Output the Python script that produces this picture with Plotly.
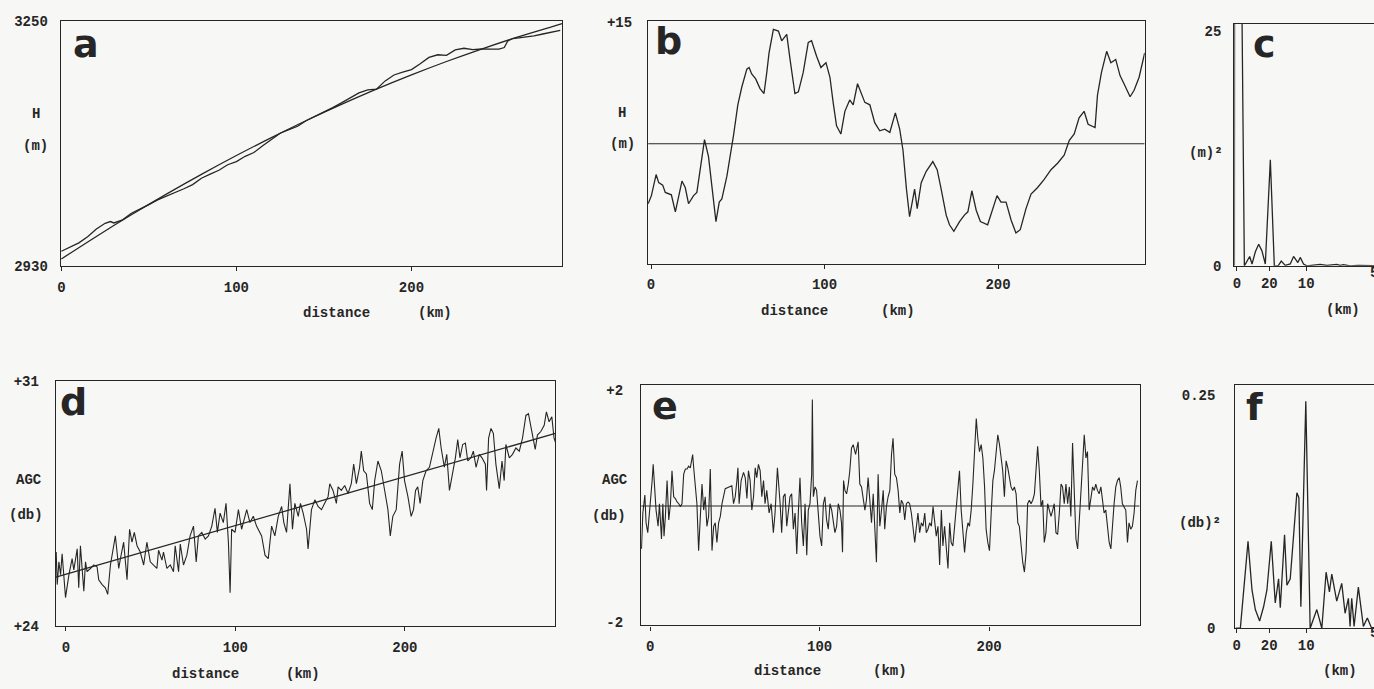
import plotly.graph_objects as go

W, H = 1374, 689

# ---------------- data ----------------
# panel a : surface elevation profile and its fitted trend
a_dist = [0, 5, 10, 15, 20, 25, 28, 30, 35, 40, 45, 50, 55, 60, 65, 70, 75, 80, 85, 90,
          95, 100, 105, 110, 115, 120, 125, 130, 135, 140, 145, 150, 155, 160, 165, 170,
          175, 180, 185, 190, 195, 200, 205, 210, 215, 220, 225, 230, 235, 240, 245, 250,
          253, 255, 258, 262, 265, 270, 275, 280, 285]
a_height = [2949.0, 2954.5, 2960.0, 2968.0, 2978.0, 2985.5, 2987.8, 2986.0, 2990.0, 2998.6,
            3004.0, 3010.0, 3016.0, 3020.6, 3026.1, 3030.6, 3036.0, 3044.4, 3049.6, 3054.8,
            3062.0, 3066.0, 3073.0, 3077.9, 3086.7, 3095.4, 3103.1, 3107.7, 3112.2, 3119.7,
            3125.0, 3131.3, 3136.6, 3142.7, 3148.8, 3155.8, 3159.8, 3160.6, 3171.4, 3179.1,
            3182.7, 3186.2, 3193.7, 3202.1, 3205.5, 3204.7, 3211.9, 3214.0, 3212.1, 3213.0,
            3212.9, 3212.8, 3215.0, 3223.5, 3226.7, 3227.6, 3228.8, 3230.2, 3232.6, 3235.0,
            3237.3]
a_fit_dist = [0, 20, 40, 60, 80, 100, 120, 140, 160, 180, 200, 220, 240, 260, 280, 286]
a_fit_height = [2939.0, 2968.4, 2996.6, 3023.6, 3049.4, 3074.0, 3097.4, 3119.7, 3140.7,
                3160.6, 3179.2, 3196.7, 3213.0, 3228.2, 3242.0, 3246.0]

# panel b : elevation residual
b_dist = [-1.7, 0.2, 2.9, 4.4, 6.7, 8.2, 11.7, 14.0, 17.8, 19.7, 21.6, 24.5, 26.4, 30.8, 33.1,
          35.1, 37.4, 39.3, 40.8, 43.7, 45.6, 47.5, 50.0, 52.3, 55.2, 56.5, 58.0, 60.3, 62.8,
          65.1, 66.7, 68.0, 70.5, 73.4, 75.3, 78.2, 80.1, 82.9, 84.9, 87.7, 90.6, 92.5, 95.4,
          97.9, 100.8, 103.1, 105.0, 106.9, 109.4, 111.7, 114.5, 116.5, 119.0, 121.3, 123.2,
          126.1, 128.9, 131.8, 134.7, 137.6, 140.8, 143.3, 145.2, 147.2, 149.0, 151.9, 153.4,
          155.7, 158.6, 162.4, 164.9, 167.2, 170.1, 172.0, 174.5, 177.8, 180.6, 182.6, 184.9,
          187.4, 189.8, 194.0, 196.9, 199.4, 201.7, 204.6, 207.5, 210.3, 212.8, 216.1, 219.0,
          222.8, 226.6, 230.5, 234.3, 238.1, 241.0, 243.9, 246.7, 249.6, 251.9, 255.9, 257.3,
          259.6, 262.6, 265.0, 267.8, 270.3, 272.6, 276.1, 278.4, 281.3, 284.5]
b_resid = [-7.4, -6.4, -3.8, -4.8, -5.1, -6.0, -6.3, -8.4, -4.6, -5.4, -7.4, -6.4, -6.0, 0.5,
           -1.6, -5.0, -9.6, -7.2, -6.8, -4.0, -1.6, 1.0, 4.8, 7.0, 9.2, 9.4, 8.6, 8.0, 6.8,
           6.2, 8.8, 11.2, 14.1, 13.9, 12.7, 13.5, 10.4, 6.2, 6.4, 8.8, 12.5, 12.7, 10.8, 9.4,
           10.0, 8.2, 5.0, 2.2, 1.2, 4.0, 5.4, 4.8, 7.4, 6.2, 5.1, 4.8, 2.6, 1.6, 1.8, 1.4,
           3.8, 1.8, -0.8, -5.6, -9.0, -5.6, -8.0, -4.8, -3.4, -2.2, -3.2, -5.6, -8.8, -10.0,
           -10.8, -9.6, -8.8, -8.4, -5.8, -8.2, -9.6, -10.0, -8.0, -6.4, -7.2, -7.2, -9.4,
           -11.0, -10.6, -8.0, -6.2, -5.4, -4.4, -3.2, -2.4, -1.4, 0.4, 1.2, 3.2, 4.0, 2.4,
           2.0, 6.0, 8.8, 11.4, 10.0, 10.4, 8.4, 7.4, 5.8, 6.6, 8.2, 11.2]

# panel c : power spectrum of elevation residual (frequency in 1/km)
c_freq = [0.0027, 0.0031, 0.0070, 0.0090, 0.0162, 0.0198, 0.0234, 0.0266, 0.0311, 0.0356,
          0.0400, 0.0446, 0.0514, 0.0568, 0.0620, 0.0662, 0.0716, 0.0784, 0.0829, 0.0887,
          0.0919, 0.0964, 0.1009, 0.1190, 0.1280, 0.1414, 0.1460, 0.1505, 0.1595, 0.1700,
          0.1919]
c_power = [0.0, 60.0, 60.0, 60.0, 0.0, 0.5, 1.0, 0.2, 1.5, 2.3, 1.6, 0.2, 11.3, 0.0, 0.0,
           0.5, 0.05, 0.2, 1.0, 0.35, 0.9, 0.2, 0.0, 0.15, 0.05, 0.15, 0.05, 0.12, 0.0, 0.05,
           0.02]

# panel d : AGC profile and linear trend
d_dist = [-5.7, -5.1, -4.1, -3.1, -2.2, -0.2, 1.8, 3.7, 4.7, 6.7,
          7.6, 8.6, 9.6, 10.6, 11.6, 12.5, 14.5, 16.5, 18.4, 19.4,
          21.4, 23.3, 24.7, 26.3, 29.2, 31.2, 32.2, 34.1, 36.1, 37.6,
          39.0, 40.4, 42.0, 43.9, 45.9, 47.8, 49.8, 51.8, 53.7, 54.7,
          56.7, 57.6, 59.6, 61.6, 63.5, 64.5, 66.5, 67.5, 69.4, 71.4,
          73.3, 75.3, 76.9, 78.2, 80.2, 82.2, 84.1, 86.1, 88.0, 89.4,
          91.0, 92.9, 94.5, 95.9, 96.9, 97.8, 99.8, 101.8, 103.7, 104.7,
          106.7, 108.6, 110.6, 112.5, 115.5, 117.5, 119.4, 121.4, 123.3, 125.3,
          127.3, 128.6, 130.2, 132.2, 133.7, 135.1, 137.1, 138.4, 140.0, 142.0,
          142.9, 144.9, 146.9, 148.8, 150.8, 152.7, 154.7, 155.7, 157.6, 159.6,
          160.6, 162.5, 164.5, 166.5, 168.4, 169.8, 171.4, 173.3, 174.3, 175.7,
          177.3, 179.2, 180.8, 182.2, 184.1, 186.1, 188.0, 190.0, 191.4, 192.9,
          194.9, 196.9, 198.4, 199.8, 201.8, 203.7, 205.1, 206.3, 207.6, 209.0,
          210.6, 212.5, 214.5, 216.5, 218.4, 220.0, 221.4, 223.3, 224.7, 226.3,
          228.2, 229.8, 231.2, 232.5, 234.1, 235.7, 237.1, 239.0, 240.4, 242.0,
          243.9, 245.5, 247.5, 248.2, 249.4, 250.8, 252.2, 253.7, 255.7, 257.3,
          258.6, 259.6, 261.6, 263.5, 265.5, 267.5, 269.4, 271.4, 272.9, 274.9,
          276.9, 278.2, 280.2, 282.2, 283.5, 285.1, 286.7, 288.0, 289.0]
d_agc = [26.12, 25.19, 25.84, 25.47, 26.07, 24.82, 25.47, 25.93, 25.61, 26.21,
         25.10, 26.30, 25.65, 25.00, 25.84, 25.56, 25.65, 25.75, 25.70, 25.33,
         25.19, 25.10, 24.91, 25.75, 26.58, 25.65, 25.93, 26.40, 25.33, 26.77,
         26.40, 26.68, 26.30, 26.12, 25.75, 26.40, 25.84, 25.75, 25.65, 26.17,
         25.89, 26.12, 25.65, 25.75, 25.56, 26.30, 25.56, 26.35, 25.75, 26.03,
         26.58, 26.86, 25.84, 26.58, 26.68, 26.49, 26.58, 26.86, 27.37, 26.68,
         27.23, 26.96, 27.51, 26.40, 24.96, 26.77, 26.68, 27.33, 26.77, 26.96,
         27.33, 26.96, 27.14, 26.86, 26.58, 26.03, 25.93, 26.86, 26.58, 27.14,
         27.42, 26.96, 26.68, 28.07, 26.77, 27.51, 27.14, 27.51, 27.23, 26.77,
         26.21, 27.33, 27.61, 27.42, 27.33, 27.51, 27.70, 28.07, 27.88, 27.51,
         27.98, 27.88, 28.02, 27.79, 28.07, 28.63, 28.07, 28.54, 29.00, 28.44,
         28.35, 27.51, 27.33, 28.16, 28.72, 28.44, 27.88, 27.33, 26.58, 27.14,
         27.33, 28.63, 29.00, 28.16, 27.70, 27.14, 27.33, 27.88, 27.98, 27.51,
         28.16, 28.44, 28.54, 29.00, 29.37, 29.65, 29.09, 28.54, 28.91, 27.88,
         28.35, 28.81, 29.33, 28.81, 29.19, 29.23, 28.72, 28.81, 29.00, 28.54,
         28.91, 28.81, 28.63, 27.88, 29.37, 29.65, 29.51, 28.63, 27.93, 28.72,
         28.16, 29.19, 28.81, 28.91, 29.09, 29.00, 29.37, 30.02, 30.07, 29.56,
         29.05, 29.46, 29.56, 29.74, 30.12, 29.84, 29.98, 29.37, 29.23]
d_trend_dist = [-5.9, 288.8]
d_trend_agc = [25.40, 29.51]

# panel e : AGC residual
e_dist = [-5.1, -4.3, -3.1, -2.4, -1.4, 0.2, 1.2, 1.8, 2.7, 3.5,
          4.7, 5.5, 6.7, 7.5, 8.2, 9.0, 10.0, 11.0, 12.0, 12.9,
          13.9, 14.9, 15.9, 16.9, 17.8, 18.8, 19.8, 20.8, 21.8, 22.7,
          23.7, 25.1, 25.7, 26.7, 27.6, 28.6, 29.6, 30.6, 31.6, 32.5,
          33.5, 34.5, 35.5, 36.5, 37.5, 38.4, 39.4, 40.4, 41.4, 42.4,
          44.3, 46.3, 48.2, 49.2, 50.2, 51.2, 51.8, 52.5, 53.7, 55.1,
          56.1, 57.1, 58.0, 59.0, 60.0, 61.0, 62.0, 62.9, 63.9, 64.9,
          65.9, 66.9, 67.8, 68.8, 70.2, 71.4, 72.7, 73.7, 75.1, 76.7,
          77.6, 78.6, 79.6, 80.6, 81.6, 82.5, 83.5, 84.5, 85.5, 86.5,
          87.5, 88.4, 89.4, 90.4, 91.4, 92.4, 93.3, 94.3, 95.3, 95.7,
          96.3, 97.3, 98.2, 99.2, 100.2, 101.2, 102.2, 103.1, 104.1, 105.1,
          106.1, 107.1, 108.0, 109.0, 110.0, 111.0, 112.0, 112.9, 113.5, 114.1,
          114.9, 115.9, 116.9, 117.8, 118.8, 119.8, 121.2, 122.7, 123.7, 124.7,
          126.7, 127.6, 128.6, 129.6, 130.6, 131.6, 132.5, 133.5, 134.5, 135.5,
          136.5, 137.5, 138.4, 139.4, 140.4, 141.4, 142.4, 143.3, 144.3, 145.3,
          146.3, 147.3, 148.2, 149.2, 150.2, 151.2, 152.2, 153.1, 154.1, 156.1,
          157.1, 158.0, 159.0, 160.0, 161.0, 162.0, 162.9, 163.9, 164.9, 165.9,
          166.9, 167.8, 168.8, 169.8, 170.8, 171.8, 172.7, 173.7, 174.7, 175.7,
          176.7, 177.6, 178.6, 179.6, 180.6, 181.6, 182.5, 183.5, 184.5, 185.5,
          186.5, 187.5, 188.4, 189.4, 190.4, 191.4, 192.4, 193.3, 194.3, 195.3,
          196.3, 197.3, 198.2, 199.2, 200.2, 201.2, 202.2, 203.1, 204.1, 205.1,
          206.1, 207.1, 208.0, 209.0, 210.0, 211.0, 212.0, 212.9, 213.9, 214.9,
          215.9, 216.9, 217.8, 218.8, 219.8, 220.8, 221.8, 222.7, 223.7, 224.7,
          225.7, 226.7, 227.6, 228.6, 229.6, 230.6, 231.6, 232.5, 233.5, 234.5,
          235.5, 236.5, 237.5, 238.4, 239.4, 240.4, 241.4, 242.4, 243.3, 244.3,
          245.3, 246.3, 247.3, 248.2, 249.2, 250.2, 251.2, 252.2, 253.1, 254.1,
          255.1, 256.1, 257.1, 258.0, 259.0, 260.0, 261.0, 262.0, 262.9, 263.9,
          264.9, 265.9, 266.9, 267.8, 268.8, 269.8, 270.8, 271.8, 272.7, 273.7,
          274.7, 275.7, 276.7, 277.6, 278.6, 279.6, 280.6, 281.6, 282.5, 283.5,
          284.5, 285.5, 286.5, 287.5]
e_resid = [-0.74, -0.12, 0.19, -0.29, -0.46, 0.04, 0.44, 0.72, 0.27, -0.07,
           -0.35, 0.04, -0.57, 0.04, -0.52, -0.18, 0.44, -0.24, 0.04, 0.61,
           0.16, 0.13, 0.07, 0.04, -0.01, 0.04, 0.55, 0.64, 0.64, 0.69,
           0.66, 0.89, 0.66, 0.38, 0.04, -0.77, -0.24, 0.38, -0.07, 0.16,
           -0.35, -0.18, 0.64, -0.77, -0.35, -0.29, -0.63, -0.29, -0.18, 0.04,
           0.30, 0.33, 0.35, 0.04, 0.16, 0.44, 0.66, 0.04, 0.44, 0.58,
           0.49, 0.13, 0.61, 0.44, -0.07, 0.16, 0.66, 0.49, 0.72, 0.61,
           0.16, 0.44, 0.04, 0.27, -0.12, 0.04, -0.46, -0.12, 0.66, 0.04,
           -0.46, 0.16, 0.21, -0.35, -0.07, 0.16, 0.21, -0.40, -0.12, -0.83,
           -0.07, 0.49, -0.29, -0.69, 0.04, -0.85, -0.07, 0.04, 0.55, 1.84,
           0.16, 0.33, 0.27, -0.18, -0.52, -0.69, 0.04, 0.16, -0.24, -0.40,
           0.04, -0.07, -0.24, -0.46, -0.35, 0.04, -0.07, -0.29, -0.80, 0.44,
           0.27, 0.21, 0.38, 0.61, 1.00, 1.06, 0.89, 1.11, 0.38, 0.33,
           -0.07, 0.10, 0.49, 0.04, -0.29, 0.21, -0.35, -0.97, 0.55, -0.35,
           -0.07, 0.27, -0.40, -0.01, 0.16, 0.27, 0.89, 1.17, 0.55, 0.49,
           0.27, -0.12, 0.10, 0.04, -0.24, 0.04, 0.07, 0.04, -0.12, -0.63,
           -0.35, -0.12, -0.46, -0.29, -0.35, -0.12, -0.46, -0.40, -0.29, -0.35,
           -0.01, -0.29, -0.52, -0.35, -1.02, -0.07, -0.69, -0.35, -0.74, -1.08,
           -0.29, -0.63, -0.69, -0.35, -0.07, 0.33, 0.61, -0.07, -0.52, -0.80,
           -0.46, -0.29, -0.35, -0.07, 0.38, 0.89, 1.51, 1.17, 0.94, 1.06,
           0.83, 0.33, -0.40, -0.63, -0.77, -0.12, 0.44, 0.61, 0.94, 1.23,
           1.06, 0.83, 0.61, 0.16, 0.78, 0.66, 0.44, 0.33, 0.27, 0.33,
           0.21, -0.29, -0.35, -0.69, -0.97, -1.14, -0.80, 0.04, 0.10, 0.04,
           0.10, 0.21, 0.61, 1.03, 0.61, -0.01, 0.10, -0.63, -0.46, 0.04,
           -0.07, -0.18, -0.07, 0.04, -0.46, -0.49, -0.12, 0.38, 0.33, 0.04,
           0.38, 0.04, 0.33, -0.18, 1.09, 0.33, -0.57, -0.74, -0.29, 0.16,
           0.61, 1.23, 0.83, 0.94, -0.07, 0.16, 0.33, 0.27, 0.38, 0.27,
           0.21, 0.33, 0.10, -0.12, -0.07, -0.35, -0.63, -0.74, -0.29, 0.04,
           0.33, 0.44, 0.49, 0.33, 0.04, -0.01, -0.07, -0.63, -0.29, -0.40,
           -0.35, -0.12, 0.27, 0.44]

# panel f : power spectrum of AGC residual
f_freq = [0.0041, 0.0108, 0.0212, 0.0266, 0.0311, 0.0369, 0.0423, 0.0468, 0.0527, 0.0581,
          0.0626, 0.0649, 0.0707, 0.0739, 0.0784, 0.0874, 0.0901, 0.0928, 0.0995, 0.1054,
          0.1144, 0.1212, 0.1270, 0.1315, 0.1347, 0.1414, 0.1482, 0.1527, 0.1572, 0.1595,
          0.1617, 0.1649, 0.1707, 0.1775, 0.1829, 0.1887]
f_power = [0.0, 0.0, 0.093, 0.041, 0.020, 0.0077, 0.023, 0.041, 0.093, 0.027,
           0.053, 0.022, 0.100, 0.046, 0.053, 0.145, 0.140, 0.023, 0.243, 0.0,
           0.020, 0.0, 0.060, 0.039, 0.058, 0.029, 0.048, 0.016, 0.032, 0.002,
           0.032, 0.002, 0.044, 0.002, 0.011, 0.0]

# tick labels
dist_tick_vals = [0, 100, 200]
dist_tick_text = ["0", "100", "200"]
spec_tick_vals = [0.006, 0.05, 0.1]
spec_tick_text = ["0", "20", "10"]

# ---------------- styling ----------------
BG = "#f7f7f5"
INK = "#262626"
MONO = "Liberation Mono, Courier New, monospace"
SANS = "DejaVu Sans, Verdana, sans-serif"
LW = 1.3


def px(x):
    return x / W


def py(y):
    return 1 - y / H


fig = go.Figure()

line = dict(color=INK, width=LW)
thin = dict(color=INK, width=1.1)

# a
fig.add_trace(go.Scatter(x=a_fit_dist, y=a_fit_height, mode="lines", line=dict(color=INK, width=LW, shape="spline"), xaxis="x", yaxis="y"))
fig.add_trace(go.Scatter(x=a_dist, y=a_height, mode="lines", line=line, xaxis="x", yaxis="y"))
# b
fig.add_trace(go.Scatter(x=[-1.7, 284.5], y=[0, 0], mode="lines", line=thin, xaxis="x2", yaxis="y2"))
fig.add_trace(go.Scatter(x=b_dist, y=b_resid, mode="lines", line=line, xaxis="x2", yaxis="y2"))
# c
fig.add_trace(go.Scatter(x=c_freq, y=c_power, mode="lines", line=line, xaxis="x3", yaxis="y3"))
# d
fig.add_trace(go.Scatter(x=d_trend_dist, y=d_trend_agc, mode="lines", line=line, xaxis="x4", yaxis="y4"))
fig.add_trace(go.Scatter(x=d_dist, y=d_agc, mode="lines", line=thin, xaxis="x4", yaxis="y4"))
# e
fig.add_trace(go.Scatter(x=[-5.3, 288.8], y=[0, 0], mode="lines", line=thin, xaxis="x5", yaxis="y5"))
fig.add_trace(go.Scatter(x=e_dist, y=e_resid, mode="lines", line=thin, xaxis="x5", yaxis="y5"))
# f
fig.add_trace(go.Scatter(x=f_freq, y=f_power, mode="lines", line=line, xaxis="x6", yaxis="y6"))

tickfont = dict(family=MONO, size=14, color=INK, weight="bold")


def xax(dom, rng, vals, text, anchor, mirror=True, standoff=5):
    return dict(domain=[px(dom[0]), px(dom[1])], range=rng, anchor=anchor,
                tickmode="array", tickvals=vals, ticktext=text,
                ticks="outside", ticklen=4, tickwidth=1, tickcolor=INK,
                showline=True, linecolor=INK, linewidth=1.4, mirror=mirror,
                showgrid=False, zeroline=False, tickfont=tickfont,
                ticklabelstandoff=standoff, fixedrange=True)


def yax(dom, rng, vals, text, anchor, mirror=True, standoff=9):
    return dict(domain=[py(dom[1]), py(dom[0])], range=rng, anchor=anchor,
                tickmode="array", tickvals=vals, ticktext=text, ticks="",
                showline=True, linecolor=INK, linewidth=1.4, mirror=mirror,
                showgrid=False, zeroline=False, tickfont=tickfont,
                ticklabelstandoff=standoff, fixedrange=True)


layout = dict(
    width=W, height=H, showlegend=False,
    paper_bgcolor=BG, plot_bgcolor=BG,
    margin=dict(l=0, r=0, t=0, b=0),
    xaxis=xax((57, 560), [-0.3, 286.2], dist_tick_vals, dist_tick_text, "y", standoff=4),
    yaxis=yax((14, 265), [2930, 3250], [2930, 3250], ["2930", "3250"], "x"),
    xaxis2=xax((646, 1144), [-1.7, 284.5], dist_tick_vals, dist_tick_text, "y2", standoff=3),
    yaxis2=yax((14, 263), [-14.82, 15.18], [-15, 15], ["-15", "+15"], "x2", standoff=12),
    xaxis3=xax((1234, 1374), [0.0027, 0.1919], spec_tick_vals, spec_tick_text, "y3", standoff=0),
    yaxis3=yax((17, 265), [0, 25.83], [0, 25], ["0", "25"], "x3", mirror=False),
    xaxis4=xax((52, 553), [-5.9, 288.8], dist_tick_vals, dist_tick_text, "y4", standoff=4),
    yaxis4=yax((383, 634), [24, 31], [24, 31], ["+24", "+31"], "x4", standoff=13),
    xaxis5=xax((639, 1139), [-5.3, 288.8], dist_tick_vals, dist_tick_text, "y5", standoff=4),
    yaxis5=yax((387, 633), [-2.06, 2.09], [-2, 2], ["-2", "+2"], "x5", standoff=14),
    xaxis6=xax((1235, 1374), [0.0041, 0.1919], spec_tick_vals, spec_tick_text, "y6", standoff=0),
    yaxis6=yax((387, 636), [0, 0.2605], [0, 0.25], ["0", "0.25"], "x6", mirror=False, standoff=16),
)

annotations = []


def text(t, x, y, size=14, family=MONO, xanchor="center"):
    annotations.append(dict(text=t, x=px(x), y=py(y), xref="paper", yref="paper",
                            showarrow=False, xanchor=xanchor, yanchor="middle",
                            font=dict(family=family, size=size, color=INK, weight="bold")))


# panel letters
for letter, x, y in [("a", 82, 38), ("b", 666, 35), ("c", 1264, 38),
                     ("d", 70, 404), ("e", 663, 408), ("f", 1254, 410)]:
    text(letter, x, y, size=38, family=SANS)

# axis labels
text("H", 32, 110); text("(m)", 32, 142)
text("distance", 333, 313); text("(km)", 432, 313)
text("H", 620, 109); text("(m)", 620, 140)
text("distance", 793, 311); text("(km)", 897, 311)
text("(m)²", 1206, 149)
text("(km)", 1343, 310)
text("AGC", 25, 484); text("(db)", 22, 520)
text("distance", 202, 683); text("(km)", 300, 683)
text("AGC", 613, 484); text("(db)", 607, 521)
text("distance", 786, 680); text("(km)", 889, 680)
text("(db)²", 1199, 528)
text("(km)", 1340, 680)
# tick label "5" that the reference shows cut by the right edge
text("5", 1368, 272, xanchor="left")
text("5", 1368, 641, xanchor="left")

layout["annotations"] = annotations
fig.update_layout(**layout)
fig.write_html("out.html", config={"displayModeBar": False},
               post_script="document.body.style.margin='0px';document.body.style.overflow='hidden';")
